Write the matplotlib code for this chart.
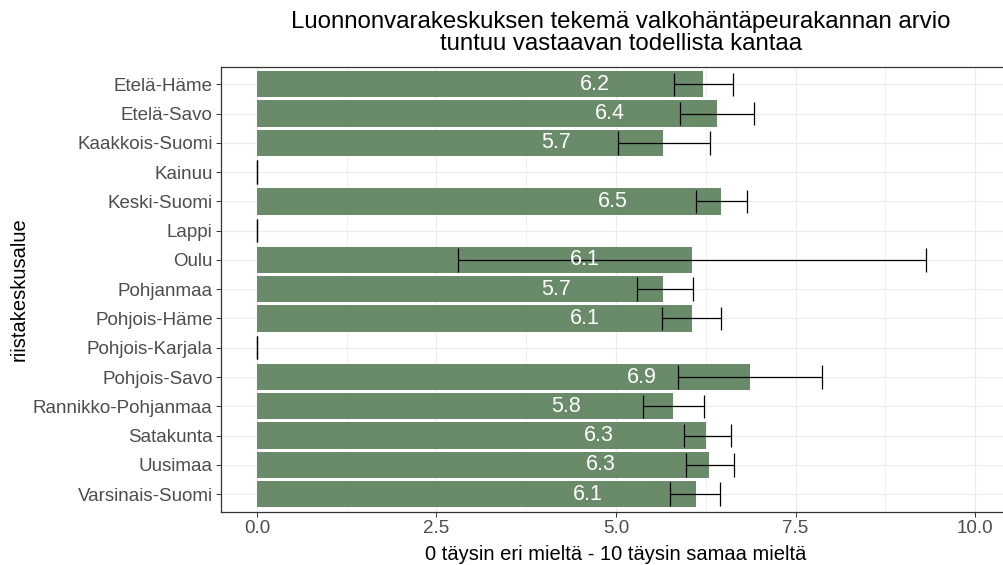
import matplotlib
matplotlib.use("Agg")
import matplotlib.pyplot as plt
import numpy as np

categories = ["Etelä-Häme", "Etelä-Savo", "Kaakkois-Suomi", "Kainuu", "Keski-Suomi",
              "Lappi", "Oulu", "Pohjanmaa", "Pohjois-Häme", "Pohjois-Karjala",
              "Pohjois-Savo", "Rannikko-Pohjanmaa", "Satakunta", "Uusimaa", "Varsinais-Suomi"]
means = [6.21, 6.41, 5.66, 0, 6.46, 0, 6.06, 5.66, 6.06, 0, 6.86, 5.80, 6.26, 6.29, 6.11]
lower = [5.81, 5.89, 5.03, 0, 6.11, 0, 2.80, 5.29, 5.64, 0, 5.86, 5.37, 5.95, 5.97, 5.75]
upper = [6.63, 6.92, 6.31, 0, 6.82, 0, 9.31, 6.07, 6.46, 0, 7.87, 6.22, 6.60, 6.64, 6.45]
xticks = [0.0, 2.5, 5.0, 7.5, 10.0]
xtick_labels = ["0.0", "2.5", "5.0", "7.5", "10.0"]

title = "Luonnonvarakeskuksen tekemä valkohäntäpeurakannan arvio\ntuntuu vastaavan todellista kantaa"
xlabel = "0 täysin eri mieltä - 10 täysin samaa mieltä"
ylabel = "riistakeskusalue"

plt.rcParams['font.family'] = ['Liberation Sans', 'DejaVu Sans']

W, H = 1004, 565
fig = plt.figure(figsize=(W / 100, H / 100), dpi=100)
left, right, top, bottom = 221, 1011, 66.7, 511.7
ax = fig.add_axes([left / W, 1 - bottom / H, (right - left) / W, (bottom - top) / H])

y = np.arange(len(categories))
bar_color = "#698B69"

ax.set_axisbelow(True)
ax.barh(y, means, height=0.9, color=bar_color, edgecolor="none", zorder=2)

# error bars
cap = 0.4
ax.hlines(y, lower, upper, color="black", lw=0.9, zorder=3)
ax.vlines(lower, y - cap, y + cap, color="black", lw=0.9, zorder=3)
ax.vlines(upper, y - cap, y + cap, color="black", lw=0.9, zorder=3)

# value labels
for yi, m in zip(y, means):
    if m > 0:
        ax.text(m - 1.5, yi, f"{m:.1f}", color="white", fontsize=15.5,
                ha="center", va="center", zorder=4)

ax.set_xlim(-0.5, 10.5)
ax.set_ylim(len(categories) - 1 + 0.6, -0.6)
ax.set_xticks(xticks)
ax.set_xticklabels(xtick_labels)
ax.set_xticks([1.25, 3.75, 6.25, 8.75], minor=True)
ax.set_yticks(y)
ax.set_yticklabels(categories)

ax.grid(which="major", color="#EBEBEB", lw=0.8)
ax.grid(which="minor", axis="x", color="#EBEBEB", lw=0.5)
ax.tick_params(axis="both", which="major", colors="#333333", labelcolor="#4D4D4D",
               labelsize=13.5, length=3.5, width=0.7, pad=2.5)
ax.tick_params(axis="x", which="minor", length=0)
for s in ax.spines.values():
    s.set_color("#333333")
    s.set_linewidth(0.9)

ax.set_xlabel(xlabel, fontsize=14.5, color="black", labelpad=6)
ax.set_ylabel(ylabel, fontsize=14.5, color="black")
ax.yaxis.set_label_coords((29 - left) / (right - left), 0.5)
fig.text(621 / W, 1 - 11 / H, title, ha="center", va="top", fontsize=17.3,
         color="black", linespacing=1.0)

fig.savefig("out.png", dpi=100)
